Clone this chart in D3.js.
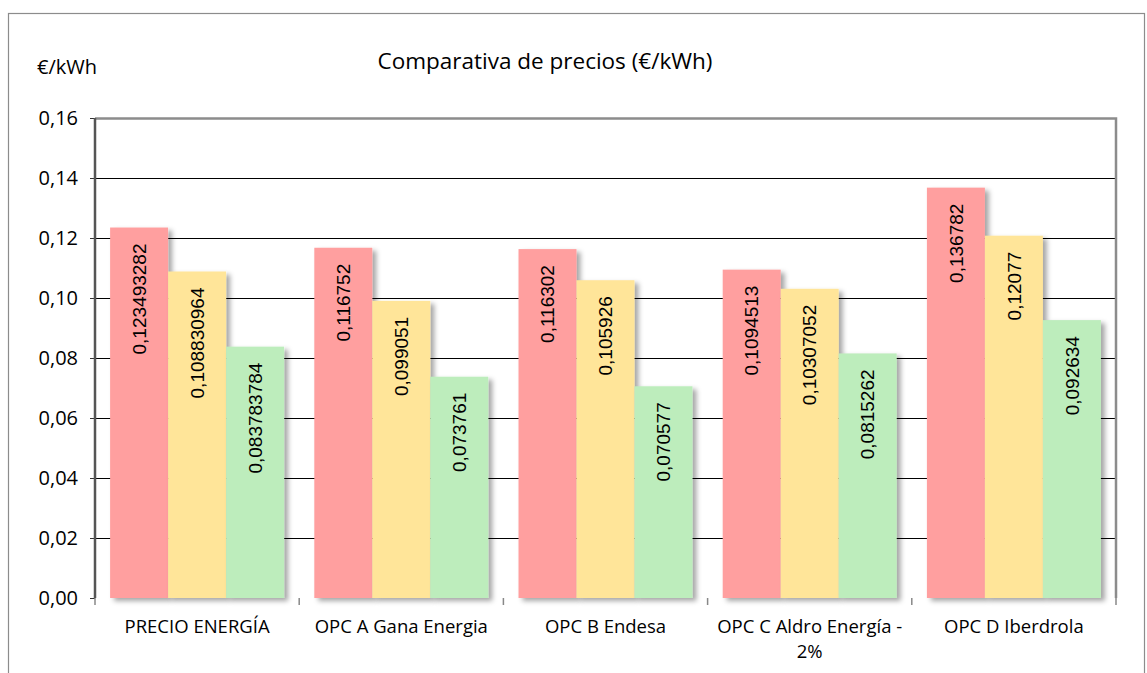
<!DOCTYPE html>
<html><head><meta charset="utf-8">
<script src="https://cdn.jsdelivr.net/npm/d3@7"></script>
<style>html,body{margin:0;padding:0;background:#fff;}</style>
</head><body>
<svg id="chart" width="1147" height="673"></svg>
<script>
const categories = ["PRECIO ENERGÍA", "OPC A Gana Energia", "OPC B Endesa", "OPC C Aldro Energía - 2%", "OPC D Iberdrola"];
const seriesNames = ["s1", "s2", "s3"];
const series1 = [0.123493282, 0.116752, 0.116302, 0.1094513, 0.136782];
const series2 = [0.108830964, 0.099051, 0.105926, 0.10307052, 0.12077];
const series3 = [0.083783784, 0.073761, 0.070577, 0.0815262, 0.092634];
const labels1 = ["0,123493282", "0,116752", "0,116302", "0,1094513", "0,136782"];
const labels2 = ["0,108830964", "0,099051", "0,105926", "0,10307052", "0,12077"];
const labels3 = ["0,083783784", "0,073761", "0,070577", "0,0815262", "0,092634"];
const yTicks = [0, 0.02, 0.04, 0.06, 0.08, 0.10, 0.12, 0.14, 0.16];
const yTickLabels = ["0,00", "0,02", "0,04", "0,06", "0,08", "0,10", "0,12", "0,14", "0,16"];
const colors = ["#FF9F9F", "#FFE599", "#BDEDBC"];
const titleText = "Comparativa de precios (€/kWh)";
const unitText = "€/kWh";

const svg = d3.select("#chart");
const W = 1147, H = 673;
const margin = {left: 95, top: 118, right: 31, bottom: 75};
const pw = W - margin.left - margin.right, ph = H - margin.top - margin.bottom;
const FONT = "'Open Sans', 'Noto Sans', sans-serif";

// outer frame
svg.append("rect").attr("x", 8.5).attr("y", 13.5).attr("width", 1136).attr("height", 700)
  .attr("fill", "#fff").attr("stroke", "#8c8c8c").attr("stroke-width", 1.2);

const defs = svg.append("defs");
const f = defs.append("filter").attr("id", "shadow").attr("x", "-20%").attr("y", "-20%").attr("width", "150%").attr("height", "150%");
f.append("feDropShadow").attr("dx", 4).attr("dy", 3).attr("stdDeviation", 2.5)
  .attr("flood-color", "#000").attr("flood-opacity", 0.35);

const g = svg.append("g").attr("transform", `translate(${margin.left},${margin.top})`);

const y = d3.scaleLinear().domain([0, 0.16]).range([ph, 0]);
const x0 = d3.scaleBand().domain(categories).range([0, pw]).padding(0);
const gap = x0.bandwidth() * 0.074;
const x1 = d3.scaleBand().domain(seriesNames).range([gap, x0.bandwidth() - gap]).padding(0);

// gridlines
g.append("g").selectAll("line").data(yTicks.filter(d => d > 0 && d < 0.16)).join("line")
  .attr("x1", 0).attr("x2", pw).attr("y1", d => Math.round(y(d)) + 0.5).attr("y2", d => Math.round(y(d)) + 0.5)
  .attr("stroke", "#000").attr("stroke-width", 1);

// plot border top/right
g.append("path").attr("d", `M0,0.5H${pw}V${ph}`).attr("fill", "none").attr("stroke", "#8c8c8c").attr("stroke-width", 2.5);

// bars
const data = [series1, series2, series3];
const labs = [labels1, labels2, labels3];
seriesNames.forEach((s, si) => {
  const grp = g.append("g");
  grp.selectAll("rect").data(categories).join("rect")
    .attr("x", (c) => x0(c) + x1(s))
    .attr("y", (c, i) => y(data[si][i]))
    .attr("width", x1.bandwidth())
    .attr("height", (c, i) => ph - y(data[si][i]))
    .attr("fill", colors[si])
    .attr("filter", "url(#shadow)");
});
// labels
seriesNames.forEach((s, si) => {
  g.append("g").selectAll("text").data(categories).join("text")
    .attr("transform", (c, i) => `translate(${x0(c) + x1(s) + x1.bandwidth() / 2},${y(data[si][i]) + 16}) rotate(-90)`)
    .attr("text-anchor", "end").attr("dy", "0.35em")
    .attr("font-family", "'Liberation Sans', Arial, sans-serif").attr("font-size", 19)
    .attr("fill", "#000").text((c, i) => labs[si][i]);
});

// axes
const yAxis = d3.axisLeft(y).tickValues(yTicks).tickSize(5).tickFormat((d, i) => yTickLabels[i]);
const ya = g.append("g").call(yAxis);
ya.select(".domain").remove();
ya.selectAll(".tick line").attr("stroke", "#333");
ya.selectAll("text").attr("font-family", FONT).attr("font-size", 20).attr("x", -17).attr("fill", "#000");
g.append("line").attr("x1", 0).attr("x2", 0).attr("y1", 0).attr("y2", ph).attr("stroke", "#555").attr("stroke-width", 2.5);

const boundaries = categories.map(c => x0(c)).concat([pw]);
g.append("g").selectAll("line").data(boundaries).join("line")
  .attr("x1", d => d).attr("x2", d => d).attr("y1", ph).attr("y2", ph + 7).attr("stroke", "#888").attr("stroke-width", 1.5);
g.append("line").attr("x1", 0).attr("x2", pw).attr("y1", ph).attr("y2", ph).attr("stroke", "#8c8c8c").attr("stroke-width", 2.5)
  .attr("filter", "url(#shadow)");

// category labels
const xl = g.append("g");
categories.forEach(c => {
  const t = xl.append("text").attr("x", x0(c) + x0.bandwidth() / 2).attr("y", ph + 35)
    .attr("text-anchor", "middle").attr("font-family", FONT).attr("font-size", 18.5).attr("fill", "#000");
  const parts = c === "OPC C Aldro Energía - 2%" ? ["OPC C Aldro Energía -", "2%"] : [c];
  parts.forEach((p, k) => t.append("tspan").attr("x", x0(c) + x0.bandwidth() / 2).attr("dy", k === 0 ? 0 : 25).text(p));
});

// title and unit
svg.append("text").attr("x", 545).attr("y", 69).attr("text-anchor", "middle")
  .attr("font-family", FONT).attr("font-size", 22.5).attr("fill", "#000").text(titleText);
svg.append("text").attr("x", 37).attr("y", 74)
  .attr("font-family", FONT).attr("font-size", 20).attr("fill", "#000").text(unitText);
</script>
</body></html>
